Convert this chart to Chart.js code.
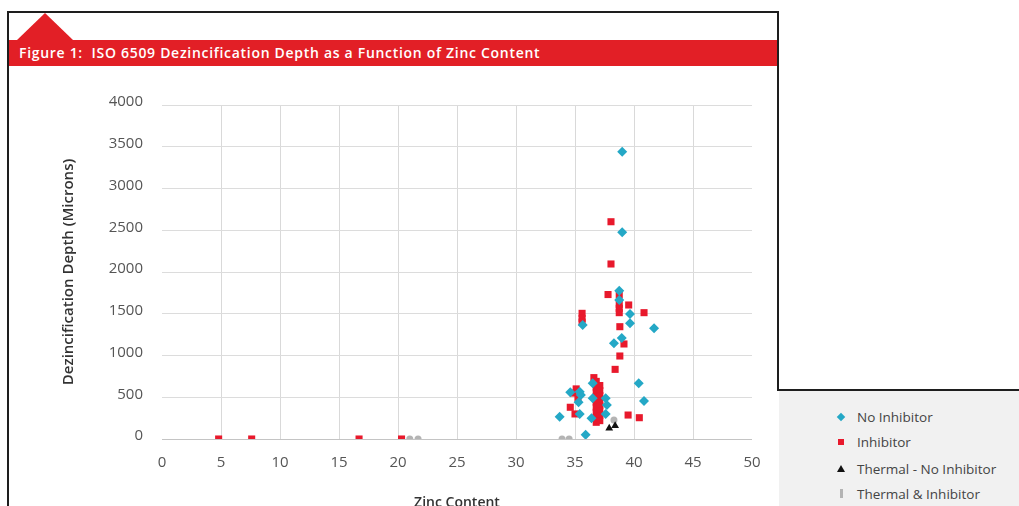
<!DOCTYPE html>
<html>
<head>
<meta charset="utf-8">
<script src="https://cdn.jsdelivr.net/npm/chart.js@4"></script>
<style>
  html, body { margin: 0; padding: 0; background: #fff; }
  body { width: 1019px; height: 506px; position: relative; overflow: hidden; font-family: "Open Sans", sans-serif; }
  #chartBox { position: absolute; left: 0; top: 0; width: 1019px; height: 511px; }
  .line { position: absolute; background: #1e1e1e; }
  #titleBar {
    position: absolute; left: 9px; top: 40px; width: 768px; height: 26px;
    background: #e21f26; color: #fff; font-size: 14px; font-weight: 600; letter-spacing: 0.7px;
    line-height: 26px; padding-left: 10px; box-sizing: border-box; white-space: nowrap;
  }
  #tab {
    position: absolute; left: 17px; top: 13px; width: 0; height: 0;
    border-left: 28px solid transparent; border-right: 28px solid transparent;
    border-bottom: 27px solid #e21f26;
  }
  #legendBox {
    position: absolute; left: 779px; top: 389px; width: 240px; height: 117px;
    background: #f1f1f1; border-top: 2px solid #1e1e1e; box-sizing: border-box;
  }
  .item { position: absolute; left: 78px; font-size: 13.5px; color: #444; line-height: 16px; }
  .mark { position: absolute; left: 62px; }
</style>
</head>
<body>
<div id="chartBox"><canvas id="zincChart"></canvas></div>

<div class="line" style="left:7px; top:11px; width:772px; height:2px;"></div>
<div class="line" style="left:7px; top:11px; width:2px; height:495px;"></div>
<div class="line" style="left:777px; top:11px; width:2px; height:380px;"></div>
<div id="tab"></div>
<div id="titleBar">Figure 1:&nbsp; ISO 6509 Dezincification Depth as a Function of Zinc Content</div>
<div id="legendBox"></div>

<script>
// SERIES NAMES AND COLOURS
const seriesNames = ['No Inhibitor', 'Inhibitor', 'Thermal - No Inhibitor', 'Thermal & Inhibitor'];
const seriesColors = ['#24a8c6', '#e8192c', '#111111', '#b4b4b4'];

// AXIS TICKS
const zincTicks = [0, 5, 10, 15, 20, 25, 30, 35, 40, 45, 50];
const depthTicks = [0, 500, 1000, 1500, 2000, 2500, 3000, 3500, 4000];

// NO INHIBITOR (zinc %, depth microns)
const noInhZinc  = [39.0, 39.0, 38.75, 38.75, 39.66, 39.66, 41.7, 38.96, 38.3, 35.65, 40.4, 40.85, 36.5, 37.6, 37.7, 37.6, 36.5, 36.4, 34.6, 35.4, 35.5, 35.3, 35.4, 33.7, 35.9];
const noInhDepth = [3440, 2475, 1776, 1665, 1497, 1386, 1326, 1210, 1146, 1365, 667, 455, 667, 487, 407, 300, 487, 248, 559, 566, 527, 440, 300, 267, 50];

// INHIBITOR
const inhZinc  = [4.8, 7.6, 16.7, 20.3,
  38.05, 38.05, 37.8, 38.75, 38.75, 39.55, 38.75, 38.75, 40.85, 38.8, 39.15, 38.8, 38.4,
  35.6, 35.6, 35.6, 36.6, 39.5, 40.45,
  36.8, 36.8, 36.8, 36.8, 36.8, 36.8, 36.8, 36.8, 36.8,
  37.1, 37.1, 37.1, 37.1, 37.1, 37.1, 37.1, 37.1,
  35.1, 34.85, 35.25, 34.6, 35.0];
const inhDepth = [0, 0, 0, 0,
  2602, 2096, 1730, 1725, 1613, 1605, 1565, 1513, 1513, 1345, 1138, 994, 834,
  1505, 1445, 1400, 735, 287, 255,
  690, 620, 560, 500, 440, 380, 320, 260, 200,
  640, 580, 520, 460, 400, 340, 280, 220,
  600, 550, 490, 380, 300];

// THERMAL - NO INHIBITOR
const thermNoZinc  = [37.9, 38.4];
const thermNoDepth = [128, 160];

// THERMAL & INHIBITOR
const thermInhZinc  = [21.0, 21.7, 33.9, 34.5, 38.3];
const thermInhDepth = [0, 0, 0, 0, 228];

// BUILD {x, y} POINTS
function toPoints(xs, ys) {
  return xs.map((x, i) => ({ x: x, y: ys[i] }));
}

const pointStyles = ['rectRot', 'rect', 'triangle', 'circle'];
const pointSizes = [5, 5, 4.5, 3.5];
const seriesData = [
  toPoints(noInhZinc, noInhDepth),
  toPoints(inhZinc, inhDepth),
  toPoints(thermNoZinc, thermNoDepth),
  toPoints(thermInhZinc, thermInhDepth)
];

// HTML LEGEND
function renderLegend() {
  const box = document.getElementById('legendBox');
  const rows = [28, 53, 80, 105];
  const marks = [
    'width:6px;height:6px;transform:rotate(45deg);margin-top:-3px;margin-left:-3px;',
    'width:6px;height:6px;margin-top:-3px;margin-left:-3px;',
    'width:0;height:0;border-left:4px solid transparent;border-right:4px solid transparent;border-bottom:7px solid #111;margin-top:-4px;margin-left:-4px;',
    'width:3px;height:9px;margin-top:-5px;margin-left:-1px;'
  ];
  seriesNames.forEach((name, i) => {
    const y = rows[i] - 2;
    const bg = i === 2 ? '' : 'background:' + seriesColors[i] + ';';
    box.insertAdjacentHTML('beforeend',
      `<div class="mark" style="top:${y}px;${bg}${marks[i]}"></div>` +
      `<div class="item" style="top:${y - 8}px;">${name}</div>`);
  });
}

function buildChart() {
  const ctx = document.getElementById('zincChart');
  const datasets = seriesNames.map((name, i) => ({
    label: name,
    data: seriesData[i],
    pointStyle: pointStyles[i],
    pointRadius: pointSizes[i],
    pointHoverRadius: pointSizes[i],
    backgroundColor: seriesColors[i],
    borderColor: seriesColors[i],
    borderWidth: 0
  }));

  new Chart(ctx, {
    type: 'scatter',
    data: { datasets },
    options: {
      responsive: true,
      maintainAspectRatio: false,
      animation: false,
      layout: { padding: { left: 62, right: 267, top: 105, bottom: 0 } },
      plugins: { legend: { display: false }, tooltip: { enabled: false } },
      scales: {
        x: {
          type: 'linear',
          min: zincTicks[0],
          max: zincTicks[zincTicks.length - 1],
          afterBuildTicks: (scale) => { scale.ticks = zincTicks.map(v => ({ value: v })); },
          afterFit: (scale) => { scale.height = 72; },
          border: { display: false },
          grid: {
            drawTicks: false,
            color: (c) => (c.tick && (c.tick.value === 0 || c.tick.value === 50)) ? 'rgba(0,0,0,0)' : '#d9d9d9'
          },
          ticks: { padding: 15, color: '#555', font: { family: 'Open Sans', size: 15 }, callback: (v) => String(v) },
          title: {
            display: true,
            text: 'Zinc Content',
            color: '#333',
            padding: { top: 0, bottom: 0 },
            font: { family: 'Open Sans', size: 14, weight: '600' }
          }
        },
        y: {
          min: depthTicks[0],
          max: depthTicks[depthTicks.length - 1],
          afterBuildTicks: (scale) => { scale.ticks = depthTicks.map(v => ({ value: v })); },
          afterFit: (scale) => { scale.width = 100; },
          border: { display: false },
          grid: {
            drawTicks: false,
            color: (c) => (c.tick && c.tick.value === 0) ? '#c4c4c4' : '#dcdcdc'
          },
          ticks: { padding: 19, labelOffset: -3, color: '#555', font: { family: 'Open Sans', size: 15 }, callback: (v) => String(v) },
          title: {
            display: true,
            text: 'Dezincification Depth (Microns)',
            color: '#333',
            padding: { top: -2, bottom: 0 },
            font: { family: 'Open Sans', size: 15, weight: '600' }
          }
        }
      }
    }
  });
}

function init() {
  renderLegend();
  buildChart();
}

document.addEventListener('DOMContentLoaded', init);
</script>
</body>
</html>
